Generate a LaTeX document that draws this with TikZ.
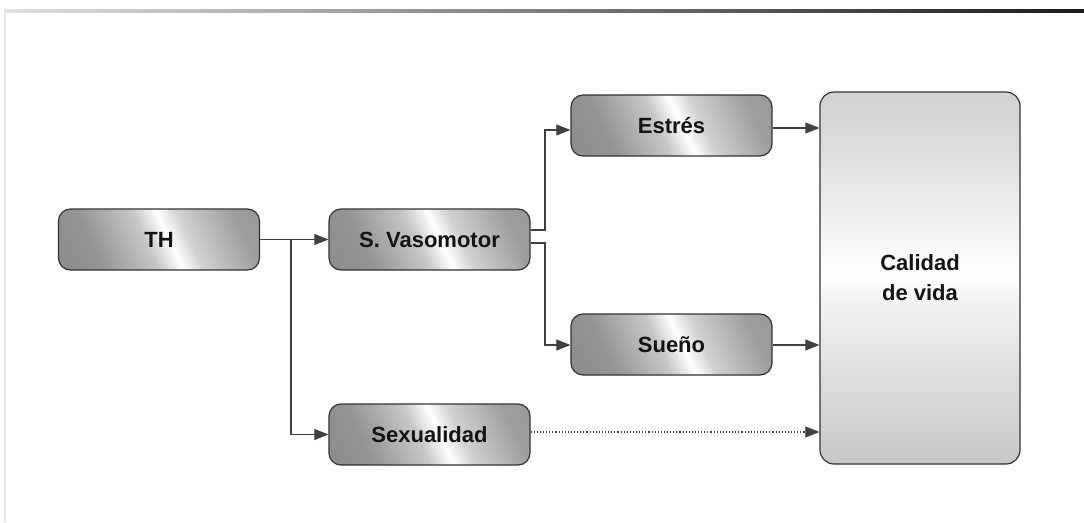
\documentclass[tikz,border=0pt]{standalone}
\usepackage{fontspec}
\setmainfont{Liberation Sans}
\usetikzlibrary{arrows.meta,shapes.misc}
\pgfdeclarehorizontalshading{metal}{100bp}{
  color(0bp)=(black!50);
  color(30bp)=(black!42);
  color(46bp)=(black!22);
  color(53bp)=(white);
  color(59bp)=(black!18);
  color(75bp)=(black!38);
  color(100bp)=(black!45)}
\pgfdeclareverticalshading{metalv}{100bp}{
  color(0bp)=(black!32);
  color(25bp)=(black!22);
  color(47bp)=(black!5);
  color(50bp)=(white);
  color(70bp)=(black!15);
  color(100bp)=(black!30)}
\tikzset{
  box/.style={draw=black!80, line width=1.2pt, rounded corners=12pt,
    minimum width=201pt, minimum height=61pt, shading=metal, shading angle=25,
    font=\fontsize{22}{24}\selectfont\bfseries, text=black!92, inner sep=0pt},
  bigbox/.style={draw=black!80, line width=1.2pt, rounded corners=14pt,
    minimum width=200pt, minimum height=372pt, shading=metalv,
    font=\fontsize{22}{30}\selectfont\bfseries, text=black!92, align=center},
  conn/.style={draw=black!75, line width=1.1pt},
  arr/.style={conn, -{Triangle[length=14pt,width=11pt]}},
  darr/.style={arr, dotted}
}
\begin{document}
\begin{tikzpicture}[x=1pt,y=-1pt]
\useasboundingbox (0,0) rectangle (1084,522);
\shade[left color=black!12, right color=black!90] (4,9.5) rectangle (1084,12.5);
\fill[black!10] (3.5,11) rectangle (6,522);
\node[box] (th) at (159,239.5) {TH};
\node[box] (sv) at (429.5,239.5) {S. Vasomotor};
\node[box] (es) at (671.5,125.5) {Estrés};
\node[box] (su) at (671.5,344.5) {Sueño};
\node[box] (sx) at (429.5,434.5) {Sexualidad};
\node[bigbox] (cv) at (920,278) {Calidad\\de vida};
\coordinate (b1) at (291,240);
\draw[arr] (th.east) -- (sv.west);
\draw[arr] (b1) |- (sx.west);
\draw[arr] (sv.east |- 0,230) -| (545,130) -- (es.west |- 0,130);
\draw[arr] (sv.east |- 0,243) -| (545,345) -- (su.west |- 0,345);
\draw[arr] (es.east |- 0,128) -- (cv.west |- 0,128);
\draw[arr] (su.east |- 0,345) -- (cv.west |- 0,345);
\draw[darr] (sx.east |- 0,432) -- (cv.west |- 0,432);
\end{tikzpicture}
\end{document}
